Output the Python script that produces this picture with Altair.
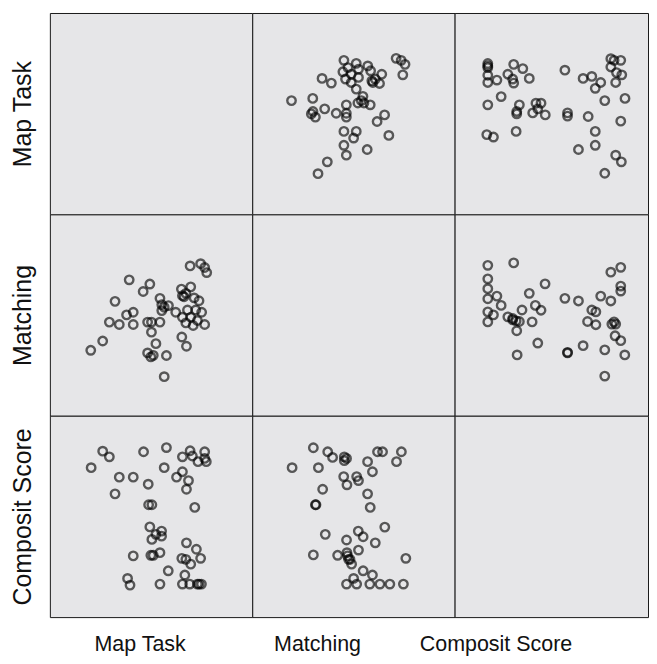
import altair as alt
import pandas as pd

# Pair A: Matching (x) vs Map Task (y)
a_matching = [71.1, 73.6, 75.5, 74.4, 45.3, 51.4, 47.3, 57.1, 44.8, 48.9, 52.5, 52.5, 58.5, 64.0,
              59.1, 60.8, 62.9, 34.5, 39.1, 46.1, 48.9, 51.4, 54.7, 19.4, 29.9, 35.8, 30.0, 31.2,
              41.5, 46.5, 46.5, 46.5, 52.2, 55.2, 58.3, 65.4, 61.7, 45.3, 51.4, 50.1, 67.5, 45.3,
              46.5, 56.8, 37.1, 32.5, 29.2, 59.6, 53.9]
a_maptask = [77.5, 76.5, 74.5, 69.3, 76.5, 75.0, 72.9, 73.7, 70.8, 69.6, 72.1, 68.0, 71.3, 69.6,
             66.3, 67.2, 65.0, 67.5, 65.2, 67.2, 65.5, 62.2, 58.6, 56.5, 57.6, 52.4, 51.1, 48.3,
             50.2, 54.4, 50.2, 48.3, 55.3, 55.3, 54.4, 49.4, 46.1, 41.2, 41.2, 37.9, 39.2, 34.3,
             29.4, 32.2, 26.1, 20.2, 49.9, 65.5, 56.5]

# Pair B: Composit Score (x) vs Map Task (y)
b_composit = [16.4, 16.4, 16.4, 16.4, 20.9, 26.3, 29.2, 33.7, 28.7, 29.2, 36.9, 23.0, 16.4, 32.0,
              30.7, 30.7, 38.6, 40.2, 42.7, 41.1, 44.8, 15.9, 19.2, 30.4, 54.5, 55.8, 55.8, 63.5,
              67.8, 72.2, 69.5, 77.2, 78.8, 82.1, 77.2, 80.0, 82.6, 79.6, 74.2, 84.2, 66.0, 82.1,
              69.5, 61.2, 69.5, 79.6, 82.4, 74.2, 16.4]
b_maptask = [74.9, 72.9, 69.1, 65.5, 66.7, 69.6, 74.5, 72.4, 67.2, 65.2, 67.5, 58.5, 54.4, 54.4,
             51.1, 49.9, 50.4, 55.2, 55.2, 52.4, 49.4, 39.6, 38.4, 41.2, 71.6, 50.4, 48.8, 67.5,
             68.5, 65.5, 62.6, 77.3, 76.5, 76.5, 73.2, 70.4, 69.3, 65.5, 56.5, 57.6, 48.6, 46.3,
             41.2, 32.2, 34.3, 29.4, 26.1, 20.4, 73.7]

# Pair C: Composit Score (x) vs Matching (y)
c_composit = [16.4, 29.2, 16.4, 16.4, 16.4, 20.9, 23.0, 16.4, 19.2, 16.4, 26.3, 28.7, 30.4, 32.0,
              30.7, 30.9, 33.3, 36.9, 39.9, 42.7, 38.3, 44.7, 41.1, 54.5, 55.8, 61.2, 63.5, 67.8,
              69.8, 65.7, 69.8, 72.2, 77.2, 77.2, 82.1, 82.1, 82.1, 78.8, 79.6, 77.7, 79.3, 82.1,
              74.2, 84.1, 74.2, 55.8, 28.7]
c_matching = [74.7, 75.9, 68.0, 63.1, 58.1, 59.4, 54.8, 51.6, 50.1, 46.6, 49.1, 48.3, 47.1, 46.8,
              42.2, 30.2, 52.5, 60.8, 54.8, 52.4, 46.6, 65.5, 36.1, 58.3, 31.5, 57.0, 34.8, 52.5,
              51.6, 46.8, 45.2, 59.4, 57.0, 71.3, 73.7, 64.4, 61.9, 46.6, 45.5, 45.5, 39.7, 37.3,
              32.7, 30.2, 19.7, 31.2, 47.6]

names = {"maptask": "Map Task", "matching": "Matching", "composit": "Composit Score"}

dfA = pd.DataFrame({"matching": a_matching, "maptask": a_maptask})
dfB = pd.DataFrame({"composit": b_composit, "maptask": b_maptask})
dfC = pd.DataFrame({"composit": c_composit, "matching": c_matching})
dummy = pd.DataFrame({"u": [50.0], "v": [50.0]})

COL_W = [203, 203, 194]          # last column is cut by the page edge
ROW_H = 202
FULL_W = 203
FONT = "Liberation Sans"
title_x_offsets = {"maptask": 90, "matching": 65, "composit": 41}


def make_x(field, col, title_key):
    scale = alt.Scale(domain=[0, 100 * COL_W[col] / FULL_W], nice=False, zero=False)
    if title_key is None:
        return alt.X(f"{field}:Q", scale=scale, axis=None)
    return alt.X(
        f"{field}:Q",
        scale=scale,
        axis=alt.Axis(title=names[title_key], labels=False, ticks=False, domain=False, grid=False,
                      titleFont=FONT, titleFontSize=21.5, titleFontWeight="normal", titleColor="#111",
                      titleX=title_x_offsets[title_key], titleY=33, titleBaseline="alphabetic",
                      titleAlign="center"),
    )


def make_y(field, title_key):
    scale = alt.Scale(domain=[0, 100], nice=False, zero=False)
    if title_key is None:
        return alt.Y(f"{field}:Q", scale=scale, axis=None)
    return alt.Y(
        f"{field}:Q",
        scale=scale,
        axis=alt.Axis(title=names[title_key], labels=False, ticks=False, domain=False, grid=False,
                      titleFont=FONT, titleFontSize=25, titleFontWeight="normal", titleColor="#111",
                      titlePadding=14),
    )


def scatter(df, xf, yf, col, xt=None, yt=None):
    return alt.Chart(df).mark_point(
        shape="circle", filled=False, color="black", strokeWidth=2.4, opacity=0.62, size=72
    ).encode(x=make_x(xf, col, xt), y=make_y(yf, yt)).properties(width=COL_W[col], height=ROW_H)


def empty(col, xt=None, yt=None):
    return alt.Chart(dummy).mark_point(opacity=0).encode(
        x=make_x("u", col, xt), y=make_y("v", yt)
    ).properties(width=COL_W[col], height=ROW_H)


panels = [
    empty(0, yt="maptask"),
    scatter(dfA, "matching", "maptask", 1),
    scatter(dfB, "composit", "maptask", 2),
    scatter(dfA, "maptask", "matching", 0, yt="matching"),
    empty(1),
    scatter(dfC, "composit", "matching", 2),
    scatter(dfB, "maptask", "composit", 0, xt="maptask", yt="composit"),
    scatter(dfC, "matching", "composit", 1, xt="matching"),
    empty(2, xt="composit"),
]

chart = alt.concat(*panels, columns=3, spacing=0, bounds="flush").properties(
    padding={"left": 2, "top": 3, "right": 0, "bottom": 0}
).configure_view(
    fill="#e6e6e8", stroke="#1a1a1a", strokeWidth=1
)

chart.save("out.html", embed_options={"renderer": "svg", "actions": False})
